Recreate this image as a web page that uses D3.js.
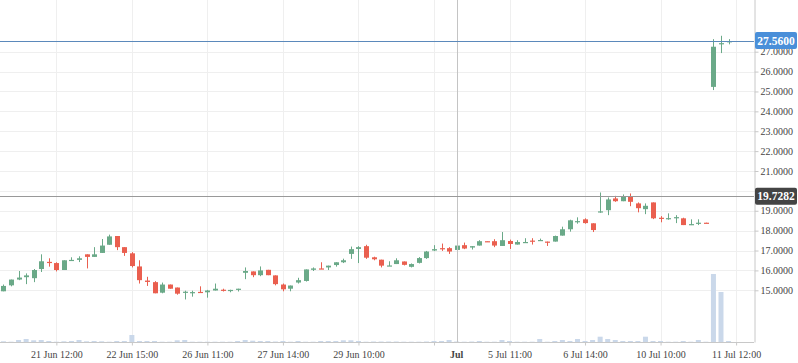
<!DOCTYPE html>
<html>
<head>
<meta charset="utf-8">
<style>
  body { margin: 0; background: #fff; }
  svg text { font-family: "Liberation Serif", "DejaVu Serif", serif; }
  .grid line { stroke: #efefef; }
  .axis path, .axis line { stroke: #c8c8c8; }
  .axis text { fill: #444; font-size: 10px; }
</style>
</head>
<body>
<svg id="chart" width="798" height="363"></svg>
<script src="https://cdn.jsdelivr.net/npm/d3@7"></script>
<script>
// candle data, one entry per hourly bar
var open  = [14.95,15.25,15.54,15.66,15.61,16.07,16.43,16.37,16.02,16.50,16.53,16.81,16.68,16.88,17.29,17.73,17.17,16.86,16.20,15.49,15.41,14.88,15.29,15.14,14.88,14.88,14.92,14.90,14.99,15.03,14.99,15.03,15.88,15.95,15.76,16.03,15.75,15.29,15.08,15.39,15.47,16.03,16.10,16.15,16.27,16.41,16.83,17.08,17.22,16.66,16.54,16.22,16.32,16.45,16.18,16.38,16.62,17.00,17.12,17.12,17.03,17.27,17.15,17.25,17.47,17.47,17.23,17.48,17.30,17.40,17.50,17.50,17.45,17.45,17.75,18.07,18.45,18.57,18.37,18.93,19.03,19.62,19.48,19.72,19.37,19.08,19.42,18.65,18.60,18.65,18.62,18.28,18.38,18.40,25.23,27.37,27.47];
var high  = [15.29,15.54,15.97,15.85,16.07,16.81,16.61,16.41,16.51,16.66,16.71,16.81,17.17,17.58,17.80,17.73,17.17,16.92,16.51,15.68,15.46,15.39,15.29,15.14,14.98,14.98,15.20,15.02,15.34,15.08,15.03,15.08,16.15,15.95,16.20,16.03,15.75,15.34,15.24,15.63,16.05,16.15,16.41,16.24,16.41,16.59,17.20,17.22,17.29,16.69,16.54,16.46,16.61,16.45,16.35,16.67,16.98,17.27,17.35,17.17,17.45,17.40,17.22,17.52,17.47,17.57,17.93,17.55,17.52,17.62,17.62,17.60,17.45,17.75,18.20,18.55,18.67,18.62,18.37,19.92,19.67,19.75,19.82,19.87,19.42,19.37,19.42,18.73,18.87,18.78,18.65,18.57,18.57,18.40,27.63,27.80,27.63];
var low   = [14.95,15.20,15.51,15.31,15.41,15.92,16.19,15.95,16.02,16.50,16.42,16.10,16.68,16.88,17.29,17.02,16.73,16.15,15.34,15.22,14.85,14.85,15.08,14.78,14.54,14.68,14.87,14.63,14.99,14.94,14.90,14.94,15.56,15.66,15.71,15.76,15.25,14.95,14.95,15.34,15.44,15.97,16.07,16.02,16.19,16.37,16.58,16.37,16.58,16.51,16.15,16.22,16.32,16.25,16.15,16.35,16.58,16.97,16.98,16.83,16.98,17.07,17.05,17.25,17.45,17.17,17.23,17.08,17.30,17.40,17.30,17.48,17.23,17.45,17.75,17.95,18.35,18.35,17.93,18.90,18.78,19.45,19.48,19.23,18.92,18.83,18.58,18.42,18.55,18.38,18.28,18.28,18.28,18.38,25.07,26.93,27.37];
var close = [15.22,15.54,15.64,15.75,16.02,16.46,16.40,16.02,16.51,16.53,16.61,16.68,16.81,17.25,17.71,17.17,16.88,16.22,15.51,15.42,14.85,15.29,15.08,14.83,14.93,14.91,14.88,14.99,15.08,14.98,15.02,15.08,15.97,15.76,16.00,15.76,15.31,15.05,15.24,15.51,16.05,16.10,16.07,16.24,16.41,16.51,17.07,17.17,16.64,16.56,16.24,16.25,16.51,16.28,16.32,16.62,16.95,17.07,17.08,16.95,17.25,17.10,17.22,17.47,17.45,17.25,17.52,17.33,17.43,17.43,17.47,17.53,17.42,17.73,18.07,18.52,18.48,18.38,18.03,18.97,19.57,19.48,19.73,19.45,19.13,19.25,18.62,18.60,18.63,18.68,18.28,18.33,18.40,18.38,27.25,27.43,27.53];
var volume = [7,3,20,30,17,20,10,3,7,10,20,7,10,7,3,10,10,70,10,10,10,3,3,17,20,3,3,3,3,3,3,10,20,13,10,10,5,10,3,10,3,3,10,10,10,17,17,10,3,5,5,5,5,3,3,3,5,10,10,20,5,3,5,10,3,3,20,10,3,3,3,30,3,10,20,10,30,10,20,53,30,20,10,10,10,53,10,10,3,3,10,3,20,3,680,500,10];

// x axis: bar index of each tick and its label
var tickIdx = [7,17,27,37,47,57,67,77,87,97];
var tickLabels = ["21 Jun 12:00","22 Jun 15:00","26 Jun 11:00","27 Jun 14:00","29 Jun 10:00","","5 Jul 11:00","6 Jul 14:00","10 Jul 10:00","11 Jul 12:00"];
var monthIdx = 60, monthLabel = "Jul";
var priceTicks = [15,16,17,18,19,20,21,22,23,24,25,26,27];

var lastPrice = 27.56;
var crossIdx = 60, crossPrice = 19.7282;

var svg = d3.select("#chart"),
    W = 754, H = 342;

var x = d3.scaleLinear().domain([-0.46, 99.37]).range([0, W]);
var y = d3.scaleLinear().domain([12.4, 29.6]).range([H, 0]);
var v = d3.scaleLinear().domain([0, d3.max(volume) * 5.03]).range([H, 0]);

var green = "#6aa988", red = "#ea5f4f";

// grid
var grid = svg.append("g").attr("class", "grid");
grid.selectAll(".hg").data(priceTicks).enter().append("line")
  .attr("x1", 0).attr("x2", W)
  .attr("y1", function (d) { return Math.round(y(d)) + 0.5; })
  .attr("y2", function (d) { return Math.round(y(d)) + 0.5; });
grid.selectAll(".vg").data(tickIdx).enter().append("line")
  .attr("y1", 0).attr("y2", H)
  .attr("x1", function (d) { return Math.round(x(d)) + 0.5; })
  .attr("x2", function (d) { return Math.round(x(d)) + 0.5; });

// volume
svg.append("g").selectAll("rect").data(volume).enter().append("rect")
  .attr("x", function (d, i) { return x(i) - 2.5; })
  .attr("width", 5)
  .attr("y", function (d) { return v(d); })
  .attr("height", function (d) { return H - v(d); })
  .attr("fill", "#cad8ea");

// candles
var idx = d3.range(open.length);
var cg = svg.append("g").selectAll("g").data(idx).enter().append("g")
  .attr("fill", function (i) { return close[i] >= open[i] ? green : red; })
  .attr("stroke", function (i) { return close[i] >= open[i] ? green : red; });

cg.append("line")
  .attr("x1", function (i) { return Math.round(x(i)) + 0.5; })
  .attr("x2", function (i) { return Math.round(x(i)) + 0.5; })
  .attr("y1", function (i) { return y(high[i]); })
  .attr("y2", function (i) { return y(low[i]); });

cg.append("rect")
  .attr("stroke", "none")
  .attr("x", function (i) { return Math.round(x(i)) - 2; })
  .attr("width", 5)
  .attr("y", function (i) { return y(Math.max(open[i], close[i])); })
  .attr("height", function (i) { return Math.max(1.2, Math.abs(y(open[i]) - y(close[i]))); });

// axes (the 20 label sits under the crosshair box, as in the original)
var yAxis = svg.append("g").attr("class", "axis")
  .attr("transform", "translate(" + (W + 0.5) + ",0)")
  .call(d3.axisRight(y).tickValues(priceTicks).tickSize(4).tickPadding(2)
    .tickFormat(function (d) { return d === 20 ? "" : d3.format(".4f")(d); }));
yAxis.select(".domain").attr("d", "M0.5,0V" + (H + 0.5));

var xAxis = svg.append("g").attr("class", "axis")
  .attr("transform", "translate(0," + (H + 0.5) + ")")
  .call(d3.axisBottom(x).tickValues(tickIdx).tickSize(3).tickPadding(5)
    .tickFormat(function (d, i) { return tickLabels[i]; }));
xAxis.select(".domain").attr("d", "M0,0H" + W);
xAxis.append("text")
  .attr("x", x(monthIdx)).attr("y", 8).attr("dy", "0.71em")
  .attr("text-anchor", "middle").attr("font-weight", "bold")
  .text(monthLabel);

// crosshair
svg.append("line")
  .attr("x1", Math.round(x(crossIdx)) + 0.5).attr("x2", Math.round(x(crossIdx)) + 0.5)
  .attr("y1", 0).attr("y2", H)
  .attr("stroke", "#c4c4c4");
svg.append("line")
  .attr("x1", 0).attr("x2", W)
  .attr("y1", Math.round(y(crossPrice)) + 0.5).attr("y2", Math.round(y(crossPrice)) + 0.5)
  .attr("stroke", "#999");

// last price line
svg.append("line")
  .attr("x1", 0).attr("x2", W)
  .attr("y1", Math.round(y(lastPrice)) + 0.5).attr("y2", Math.round(y(lastPrice)) + 0.5)
  .attr("stroke", "#5b89bb").attr("stroke-width", 1.2);

// value boxes on the right axis
function tag(val, fill, fmt) {
  var g = svg.append("g").attr("transform", "translate(" + (W + 1) + "," + y(val) + ")");
  g.append("rect").attr("x", 0).attr("y", -8.5).attr("width", 42).attr("height", 17)
    .attr("rx", 2).attr("fill", fill);
  g.append("text").attr("x", 21).attr("dy", "0.35em").attr("text-anchor", "middle")
    .attr("fill", "#fff").attr("font-size", "11.5px").attr("font-weight", "bold")
    .text(d3.format(fmt)(val));
}
tag(lastPrice, "#4a8fd9", ".4f");
tag(crossPrice, "#444", ".4f");
</script>
</body>
</html>
